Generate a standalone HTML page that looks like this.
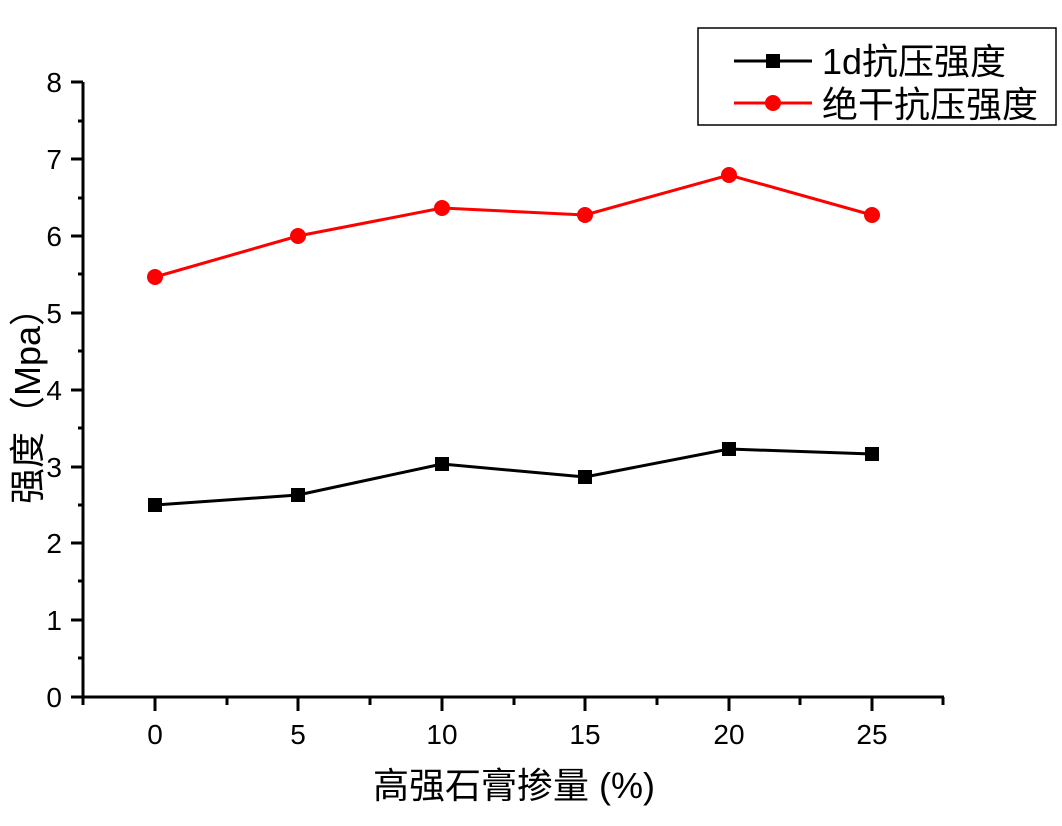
<!DOCTYPE html>
<html><head><meta charset="utf-8"><style>body{margin:0;background:#fff}</style></head><body>
<svg width="1062" height="821" xmlns="http://www.w3.org/2000/svg" font-family="Liberation Sans, Noto Sans CJK SC, sans-serif">
<g stroke="#000" stroke-width="3" fill="none">
<line x1="83" y1="82" x2="83" y2="698"/>
<line x1="82" y1="697" x2="944" y2="697"/>
<path d="M71 697H83M71 620H83M71 543H83M71 467H83M71 390H83M71 313H83M71 236H83M71 159H83M71 82H83"/>
<path d="M78 658H83M78 581H83M78 505H83M78 428H83M78 351H83M78 274H83M78 198H83M78 121H83"/>
<path d="M155 697V711M298 697V711M442 697V711M585 697V711M729 697V711M872 697V711"/>
<path d="M83 697V705M227 697V705M370 697V705M514 697V705M657 697V705M800 697V705M943 697V705"/>
</g>
<g font-size="28" fill="#000" text-anchor="end">
<text x="62" y="707">0</text><text x="62" y="630">1</text><text x="62" y="553">2</text><text x="62" y="477">3</text><text x="62" y="400">4</text><text x="62" y="323">5</text><text x="62" y="246">6</text><text x="62" y="169">7</text><text x="62" y="92">8</text>
</g>
<g font-size="28" fill="#000" text-anchor="middle">
<text x="155" y="744">0</text><text x="298" y="744">5</text><text x="442" y="744">10</text><text x="585" y="744">15</text><text x="729" y="744">20</text><text x="872" y="744">25</text>
</g>
<text x="514" y="798" font-size="36" text-anchor="middle">高强石膏掺量 (%)</text>
<text transform="translate(40,397) rotate(-90)" font-size="36" text-anchor="middle">强度（Mpa）</text>
<polyline points="155,505 298,495 442,464 585,477 729,449 872,454" fill="none" stroke="#000" stroke-width="3"/>
<g fill="#000"><rect x="148" y="498" width="14" height="14"/><rect x="291" y="488" width="14" height="14"/><rect x="435" y="457" width="14" height="14"/><rect x="578" y="470" width="14" height="14"/><rect x="722" y="442" width="14" height="14"/><rect x="865" y="447" width="14" height="14"/></g>
<polyline points="155,277 298,236 442,208 585,215 729,175 872,215" fill="none" stroke="#f00" stroke-width="3"/>
<g fill="#f00"><circle cx="155" cy="277" r="8"/><circle cx="298" cy="236" r="8"/><circle cx="442" cy="208" r="8"/><circle cx="585" cy="215" r="8"/><circle cx="729" cy="175" r="8"/><circle cx="872" cy="215" r="8"/></g>
<rect x="698" y="28" width="358" height="97" fill="none" stroke="#000" stroke-width="1.5"/>
<line x1="734" y1="61" x2="812" y2="61" stroke="#000" stroke-width="3"/><rect x="766" y="54" width="14" height="14"/>
<line x1="734" y1="103" x2="812" y2="103" stroke="#f00" stroke-width="3"/><circle cx="773" cy="103" r="8" fill="#f00"/>
<text x="822" y="74" font-size="36">1d抗压强度</text>
<text x="822" y="117" font-size="36">绝干抗压强度</text>
</svg>
</body></html>
